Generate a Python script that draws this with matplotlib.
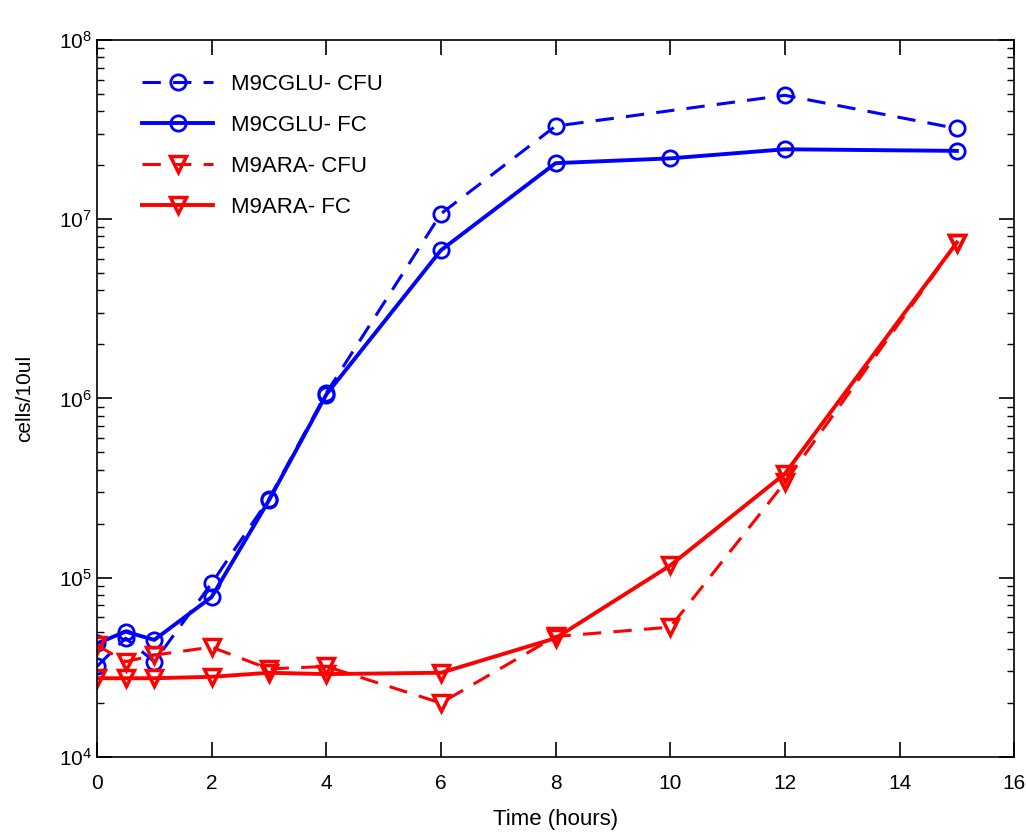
import numpy as np
import matplotlib.pyplot as plt
from matplotlib.ticker import LogLocator

plt.rcParams['font.family'] = ['Liberation Sans', 'DejaVu Sans']

# time points (hours)
t_all = [0, 0.5, 1, 2, 3, 4, 6, 8, 10, 12, 15]
t_glu_cfu = [0, 0.5, 1, 2, 3, 4, 6, 8, 12, 15]

glu_cfu = [3.2e4, 4.6e4, 3.4e4, 9.3e4, 2.75e5, 1.07e6, 1.07e7, 3.3e7, 4.9e7, 3.2e7]
glu_fc = [4.3e4, 5.0e4, 4.5e4, 7.8e4, 2.7e5, 1.05e6, 6.7e6, 2.05e7, 2.18e7, 2.45e7, 2.4e7]
ara_cfu = [4.2e4, 3.4e4, 3.7e4, 4.1e4, 3.1e4, 3.2e4, 2.0e4, 4.7e4, 5.3e4, 3.4e5, 7.4e6]
ara_fc = [2.75e4, 2.75e4, 2.75e4, 2.8e4, 2.95e4, 2.9e4, 2.95e4, 4.6e4, 1.17e5, 3.8e5, 7.4e6]

fig = plt.figure(figsize=(10.26, 8.35), dpi=100)
ax = fig.add_axes([0.0945, 0.0934, 0.894, 0.859])

ax.plot(t_glu_cfu, glu_cfu, 'o--', color='#0000ff', lw=2.2, ms=11, mfc='none', mew=2,
        dashes=(6, 4), label='M9CGLU- CFU')
ax.plot(t_all, glu_fc, 'o-', color='#0000ff', lw=2.8, ms=11, mfc='none', mew=2,
        label='M9CGLU- FC')
ax.plot(t_all, ara_cfu, 'v--', color='#ff0000', lw=2.2, ms=12, mfc='none', mew=2.5,
        dashes=(6, 4), label='M9ARA- CFU')
ax.plot(t_all, ara_fc, 'v-', color='#ff0000', lw=2.8, ms=12, mfc='none', mew=2.5,
        label='M9ARA- FC')

ax.set_yscale('log')
ax.set_xlim(0, 16)
ax.set_ylim(1e4, 1e8)
ax.set_xticks(range(0, 17, 2))
ax.yaxis.set_major_locator(LogLocator(base=10, numticks=10))
ax.yaxis.set_minor_locator(LogLocator(base=10, subs=np.arange(2, 10), numticks=20))
ax.tick_params(which='both', direction='in', top=True, right=True, labelsize=15)
ax.tick_params(which='major', length=11, width=1.2)
ax.tick_params(which='minor', length=5, width=1)
ax.tick_params(axis='x', pad=12)
for s in ax.spines.values():
    s.set_linewidth(1.2)

ax.set_xlabel('Time (hours)', fontsize=16, labelpad=12)
ax.set_ylabel('cells/10ul', fontsize=15, labelpad=18)

ax.legend(loc='upper left', frameon=False, fontsize=16, handlelength=3.2,
          borderaxespad=0.8, labelspacing=0.9, bbox_to_anchor=(0.02, 0.99))

fig.savefig('out.png', dpi=100)
